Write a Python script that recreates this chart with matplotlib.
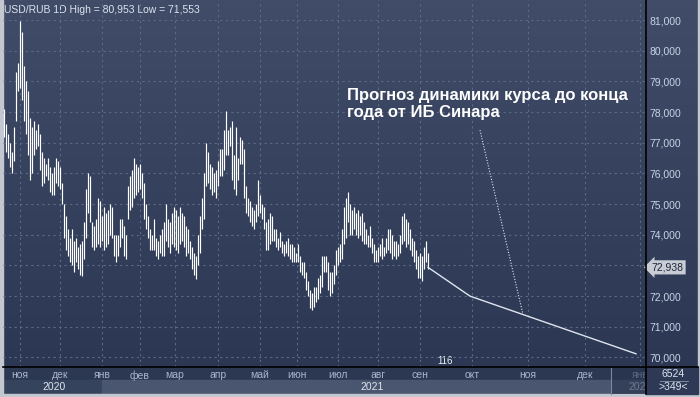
import matplotlib
matplotlib.use("Agg")
import matplotlib.pyplot as plt
import numpy as np
from matplotlib.colors import LinearSegmentedColormap
from matplotlib.patches import Rectangle

plt.rcParams["font.family"] = ["Liberation Sans", "DejaVu Sans"]

# ------------------------------------------------------------------
# Data: daily USD/RUB bars (high / low)
# ------------------------------------------------------------------
highs = [
    78.1, 77.6, 77.3, 77.0, 76.7, 77.5, 79.3, 79.6, 80.953, 80.6,
    79.5, 79.0, 78.7, 77.8, 77.5, 77.7, 77.4, 77.6, 77.3, 76.7,
    76.5, 76.3, 76.5, 76.2, 76.0, 76.2, 76.5, 76.4, 76.2, 75.7,
    75.0, 74.6, 74.2, 73.9, 74.2, 73.8, 73.9, 73.6, 73.7, 73.8,
    74.4, 75.5, 76.0, 75.9, 74.4, 74.3, 74.5, 75.2, 75.1, 74.6,
    74.9, 74.7, 74.8, 75.0, 74.9, 74.0, 74.0, 74.0, 74.5, 74.5,
    74.3, 74.0, 75.6, 75.9, 76.1, 76.5, 76.3, 76.2, 76.3, 76.0,
    75.7, 75.0, 74.6, 74.2, 74.0, 74.5, 73.9, 73.8, 74.0, 74.2,
    74.4, 75.0, 74.5, 74.4, 74.7, 74.9, 74.8, 74.6, 74.9, 74.7,
    74.6, 74.3, 74.2, 73.8, 73.6, 73.4, 73.3, 74.0, 74.6, 75.2,
    76.0, 77.0, 76.7, 76.3, 76.2, 76.0, 76.1, 76.4, 76.8, 76.8,
    77.4, 78.04, 77.4, 77.5, 77.7, 76.6, 77.5, 76.5, 77.2, 77.1,
    76.8, 75.6, 75.2, 75.1, 74.9, 74.8, 75.0, 75.8, 75.3, 75.0,
    74.9, 74.4, 74.5, 74.7, 74.6, 74.2, 74.2, 73.9, 74.1, 73.8,
    73.7, 73.8, 73.9, 73.7, 73.7, 73.6, 73.4, 73.7, 73.3, 73.1,
    73.1, 72.8, 72.5, 72.2, 72.1, 72.3, 72.3, 72.6, 72.7, 73.3,
    73.3, 73.3, 73.1, 72.8, 72.8, 73.0, 73.5, 73.6, 73.7, 74.2,
    74.9, 75.2, 75.4, 75.0, 74.8, 74.9, 74.7, 74.8, 74.6, 74.7,
    74.4, 74.2, 74.0, 74.3, 73.9, 73.7, 73.5, 73.6, 73.7, 73.9,
    73.6, 73.9, 74.2, 74.2, 74.0, 73.8, 73.8, 73.7, 74.0, 74.6,
    74.7, 74.5, 74.4, 74.2, 73.9, 73.8, 73.5, 73.3, 73.4, 73.3,
    73.6, 73.8, 73.4,
]
lows = [
    77.2, 76.7, 76.5, 76.2, 76.0, 76.4, 77.7, 78.7, 78.8, 78.4,
    77.7, 77.3, 76.6, 75.8, 76.0, 76.6, 76.8, 76.9, 76.1, 75.6,
    75.7, 75.9, 75.8, 75.4, 75.3, 75.3, 75.7, 75.6, 75.5, 75.0,
    73.9, 73.5, 73.3, 73.1, 73.0, 72.8, 73.1, 72.9, 72.7, 72.65,
    73.2, 73.9, 74.7, 74.4, 73.6, 73.5, 73.6, 73.7, 73.6, 73.8,
    73.5, 73.6, 73.7, 74.0, 73.9, 73.3, 73.1, 73.3, 73.6, 73.9,
    73.3, 73.2, 74.5, 74.8, 74.9, 75.2, 75.3, 75.4, 75.5, 75.2,
    74.5, 74.2, 73.9, 73.5, 73.5, 73.5, 73.3, 73.2, 73.4, 73.3,
    73.3, 73.8, 73.6, 73.4, 73.7, 73.6, 73.5, 73.4, 73.7, 73.8,
    73.6, 73.3, 73.4, 73.2, 72.9, 72.7, 72.55, 73.0, 73.4, 74.2,
    74.5, 75.6, 75.7, 75.5, 75.3, 75.4, 75.2, 75.6, 75.9, 75.9,
    76.1, 76.6, 76.6, 76.9, 75.8, 75.5, 75.3, 75.8, 76.3, 76.3,
    75.2, 74.7, 74.6, 74.4, 74.3, 74.2, 74.4, 74.6, 74.7, 74.5,
    74.2, 73.5, 73.5, 73.7, 73.8, 73.8, 73.6, 73.5, 73.6, 73.4,
    73.3, 73.4, 73.3, 73.2, 73.1, 73.1, 73.1, 73.1, 72.8, 72.7,
    72.6, 72.2, 72.0, 71.6, 71.553, 71.65, 71.8, 71.9, 72.1, 72.3,
    72.8, 72.8, 72.2, 72.0, 72.1, 72.4, 72.7, 73.0, 73.1, 73.2,
    73.7, 73.9, 74.4, 74.0, 74.0, 74.2, 74.0, 73.9, 74.0, 73.8,
    73.7, 73.7, 73.6, 73.6, 73.4, 73.1, 73.1, 73.1, 73.3, 73.2,
    73.3, 73.4, 73.5, 73.4, 73.2, 73.3, 73.2, 73.3, 73.4, 73.7,
    73.8, 73.6, 73.7, 73.5, 73.3, 73.1, 72.9, 72.6, 72.6, 72.5,
    72.9, 73.1, 72.9,
]
last_close = 72.938

# forecast to year end (bar index, price)
forecast_x = [212, 233, 316]
forecast_y = [72.938, 72.0, 70.12]

month_pos = [8, 28, 49, 68, 85.5, 107, 128, 146.5, 167, 187, 208, 234, 262, 290.5, 318]
month_labels = ["ноя", "дек", "янв", "фев", "мар", "апр", "май", "июн",
                "июл", "авг", "сен", "окт", "ноя", "дек", "янв"]
price_ticks = [70, 71, 72, 73, 74, 75, 76, 77, 78, 79, 80, 81]

note = "Прогноз динамики курса до конца\nгода от ИБ Синара"

# ------------------------------------------------------------------
# Figure, background panels (pixel coordinates)
# ------------------------------------------------------------------
fig = plt.figure(figsize=(7, 3.97), dpi=100)

bg = fig.add_axes([0, 0, 1, 1], zorder=0)
grad = np.linspace(0, 1, 256)[:, None]
cmap = LinearSegmentedColormap.from_list("bg", ["#404c68", "#2b3753"])
bg.imshow(grad, cmap=cmap, extent=(0, 700, 367, 0), aspect="auto")
bg.add_patch(Rectangle((3, 367), 643, 13, color="#2c3852"))
bg.add_patch(Rectangle((3, 380), 99, 14, color="#36435d"))
bg.add_patch(Rectangle((102, 380), 544, 14, color="#4a566f"))
bg.add_patch(Rectangle((0, 0), 2.5, 397, color="#c3c8d0"))
bg.add_patch(Rectangle((0, 394), 700, 3, color="#c3c8d0"))
bg.add_patch(Rectangle((698, 0), 2, 397, color="#c3c8d0"))
bg.text(4, 10, "USD/RUB 1D High = 80,953 Low = 71,553", fontsize=7.5,
        color="#dde4ee", va="center", ha="left")
bg.text(54, 387, "2020", fontsize=7.5, color="#dfe5ee", va="center", ha="center")
bg.text(372, 387, "2021", fontsize=7.5, color="#dfe5ee", va="center", ha="center")
bg.text(628, 387, "2022", fontsize=7.5, color="#dfe5ee", va="center", ha="left")
bg.text(437, 361, "116", fontsize=7, color="#eef2f8", va="center", ha="left")
bg.set_xlim(0, 700)
bg.set_ylim(397, 0)
bg.axis("off")

# ------------------------------------------------------------------
# Main price axes
# ------------------------------------------------------------------
ax = fig.add_axes([3 / 700, 30 / 397, 643 / 700, 367 / 397], zorder=1)
ax.set_facecolor("none")
x = np.arange(len(highs))
ax.vlines(x, lows, highs, color="white", lw=0.85)
ax.plot(forecast_x, forecast_y, color="#dfe4ee", lw=1.0)

ax.set_xlim(-0.5, 321)
ax.set_ylim(69.69, 81.652)
ax.set_xticks(month_pos)
ax.set_xticklabels(month_labels)
ax.yaxis.tick_right()
ax.set_yticks(price_ticks)
# the 73,000 label sits under the last-price tag, as in the original
ax.set_yticklabels(["" if v == 73 else f"{v:.3f}".replace(".", ",")
                    for v in price_ticks])
ax.tick_params(axis="x", length=0, pad=2.5, labelsize=7.5, labelcolor="#a9b5cc")
ax.tick_params(axis="y", length=0, pad=2.5, labelsize=7.5, labelcolor="#c9d3e6")
ax.grid(True, color="#5d6a86", linestyle=(0, (2, 3)), linewidth=0.8)
for s in ax.spines.values():
    s.set_visible(False)

ax.annotate(f"{last_close:.3f}".replace(".", ","), xy=(1, last_close),
            xycoords=("axes fraction", "data"), xytext=(4, 0),
            textcoords="offset points", va="center", ha="left", fontsize=7.5,
            color="#1c2438", annotation_clip=False, zorder=5,
            bbox=dict(boxstyle="larrow,pad=0.2", fc="#c8ccd4", ec="none"))

ax.text(171.5, 78.79, note, fontsize=12, fontweight="bold", color="white",
        va="top", ha="left", linespacing=1.15)
end_x = 259.5
end_y = np.interp(end_x, forecast_x, forecast_y)
ax.plot([238, end_x], [77.41, end_y], color="#e0e4ec", lw=0.8,
        linestyle=(0, (1, 1.5)))

# ------------------------------------------------------------------
# Overlay: frame lines and bottom-right box
# ------------------------------------------------------------------
top = fig.add_axes([0, 0, 1, 1], zorder=3)
top.set_facecolor("none")
top.add_patch(Rectangle((611, 367), 35, 27, fc="#27334c", alpha=0.6, ec="none"))
top.plot([611, 611], [368, 394], color="#7d879b", lw=0.8)
top.add_patch(Rectangle((646, 367), 52, 27, color="#2e3a55"))
top.plot([646, 646], [0, 394], color="black", lw=1.2)
top.plot([3, 698], [367, 367], color="black", lw=1.2)
top.plot([660, 688], [380.5, 380.5], color="#8a94a8", lw=0.6)
top.text(673, 374, "6524", fontsize=7.5, color="#dce4f0", va="center", ha="center")
top.text(673, 387, ">349<", fontsize=7.5, color="#dce4f0", va="center", ha="center")
top.set_xlim(0, 700)
top.set_ylim(397, 0)
top.axis("off")

plt.savefig("out.png", dpi=100)
